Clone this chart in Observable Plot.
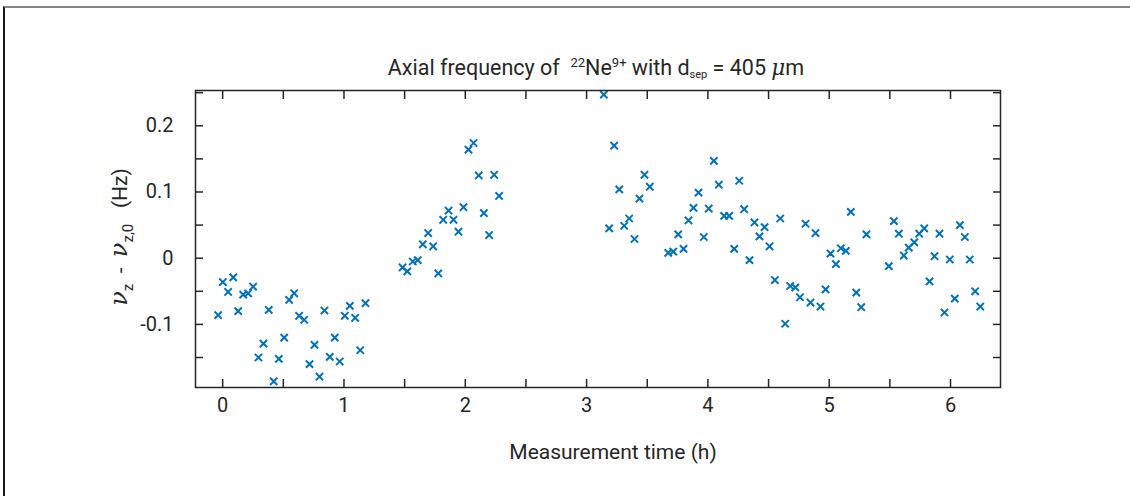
<!DOCTYPE html>
<html><head><meta charset="utf-8">
<script src="https://cdn.jsdelivr.net/npm/d3@7"></script>
<script src="https://cdn.jsdelivr.net/npm/@observablehq/plot@0.6"></script>
<style>
body{margin:0;background:#fff;}
#wrap{position:relative;width:1130px;height:496px;overflow:hidden;font-family:Roboto,"Noto Sans",sans-serif;color:#262626;}
#border{position:absolute;left:3px;top:6px;right:-10px;bottom:-10px;border-top:2px solid #858585;border-left:2px solid #1a1a1a;}
#title{position:absolute;left:596px;top:67px;transform:translate(-50%,-50%);white-space:nowrap;font-size:21.5px;}
#title sup{font-size:13px;vertical-align:8px;line-height:0;}
#title sub{font-size:11px;vertical-align:-3px;line-height:0;}
#ylab{position:absolute;left:119px;top:237px;transform:translate(-50%,-50%) rotate(-90deg);white-space:nowrap;font-size:21px;}
#ylab .nu{font-family:"DejaVu Serif","Liberation Serif",serif;font-style:italic;font-size:24px;}
#ylab sub{font-size:15px;vertical-align:-6px;line-height:0;}
#chart{position:absolute;left:0;top:0;}
</style></head>
<body><div id="wrap">
<div id="border"></div>
<div id="chart"></div>
<div id="title">Axial frequency of&nbsp;&nbsp;<sup>22</sup>Ne<sup>9+</sup>&nbsp;with d<sub>sep</sub> = 405 <span style="font-family:'DejaVu Serif',serif;font-style:italic">μ</span>m</div>
<div id="ylab"><span class="nu">ν</span><sub>z</sub>&nbsp;&nbsp;-&nbsp;&nbsp;<span class="nu">ν</span><sub>z,0</sub>&nbsp;&nbsp;&nbsp;(Hz)</div>
</div>
<script>
const time = [
 -0.037,0.001,0.045,0.087,0.128,0.169,0.210,0.251,0.295,0.336,0.380,0.421,0.463,0.507,0.548,0.589,0.630,0.672,0.716,0.757,0.798,0.839,0.883,0.924,0.965,1.007,1.048,1.092,1.134,1.177,
 1.483,1.522,1.567,1.608,1.650,1.694,1.735,1.777,1.818,1.862,1.903,1.944,1.985,2.026,2.068,2.111,2.153,2.197,2.238,2.279,
 3.142,3.186,3.227,3.269,3.310,3.351,3.395,3.436,3.477,3.521,
 3.673,3.714,3.755,3.799,3.840,3.881,3.923,3.966,4.007,4.049,4.090,4.134,4.175,4.217,4.258,4.299,4.343,4.384,4.425,4.467,4.508,4.552,4.596,4.637,4.678,4.720,4.759,4.805,4.846,4.887,4.928,4.970,5.011,5.055,5.096,5.137,5.178,5.223,5.264,5.307,
 5.491,5.533,5.574,5.615,5.656,5.701,5.742,5.783,5.827,5.868,5.909,5.950,5.994,6.035,6.077,6.118,6.159,6.203,6.245
];
const freqShift = [
 -0.086,-0.036,-0.051,-0.029,-0.080,-0.055,-0.053,-0.043,-0.150,-0.129,-0.078,-0.186,-0.152,-0.120,-0.063,-0.053,-0.087,-0.093,-0.160,-0.131,-0.179,-0.079,-0.149,-0.120,-0.156,-0.087,-0.072,-0.090,-0.139,-0.068,
 -0.014,-0.020,-0.005,-0.003,0.021,0.038,0.018,-0.023,0.058,0.072,0.058,0.040,0.077,0.164,0.174,0.125,0.068,0.035,0.126,0.094,
 0.247,0.045,0.170,0.104,0.049,0.060,0.029,0.090,0.126,0.108,
 0.008,0.010,0.036,0.014,0.057,0.076,0.099,0.032,0.075,0.147,0.111,0.064,0.064,0.014,0.117,0.074,-0.003,0.054,0.033,0.047,0.018,-0.033,0.060,-0.099,-0.042,-0.044,-0.059,0.052,-0.067,0.038,-0.073,-0.047,0.007,-0.009,0.015,0.011,0.070,-0.052,-0.074,0.036,
 -0.012,0.056,0.037,0.004,0.016,0.024,0.037,0.045,-0.035,0.003,0.037,-0.082,-0.002,-0.061,0.050,0.032,-0.002,-0.050,-0.073
];
const xTickLabels = [0,1,2,3,4,5,6];
const xMinorTicks = [0,0.5,1,1.5,2,2.5,3,3.5,4,4.5,5,5.5,6];
const yTickLabels = [-0.1,0,0.1,0.2];
const yMinorTicks = [-0.15,-0.1,-0.05,0,0.05,0.1,0.15,0.2,0.25];
const xLabel = "Measurement time (h)";

const data = time.map((t,i)=>({t, v: freqShift[i]}));
const ink = "#262626";
const fmt = d => String(d);

const chart = Plot.plot({
  width: 1130, height: 496,
  marginTop: 90, marginBottom: 109, marginLeft: 195, marginRight: 130,
  style: {fontFamily: "Roboto, 'Noto Sans', sans-serif", color: ink, background: "transparent"},
  x: {domain: [-0.224, 6.412], label: null, axis: null},
  y: {domain: [-0.1953, 0.2533], label: null, axis: null},
  marks: [
    Plot.dot(data, {x: "t", y: "v", symbol: "times", r: 3.4, stroke: "#0072BD", strokeWidth: 2}),
    Plot.frame({stroke: ink, strokeWidth: 1.5}),
    Plot.axisX(xMinorTicks, {anchor: "bottom", tickSize: -8, tickFormat: () => "", strokeWidth: 1.5, stroke: ink}),
    Plot.axisX(xMinorTicks, {anchor: "top", tickSize: -8, tickFormat: () => "", strokeWidth: 1.5, stroke: ink}),
    Plot.axisY(yMinorTicks, {anchor: "left", tickSize: -8, tickFormat: () => "", strokeWidth: 1.5, stroke: ink}),
    Plot.axisY(yMinorTicks, {anchor: "right", tickSize: -8, tickFormat: () => "", strokeWidth: 1.5, stroke: ink}),
    Plot.text(xTickLabels, {x: d => d, text: fmt, frameAnchor: "bottom", dy: 24, fontSize: 20, fill: ink}),
    Plot.text(yTickLabels, {y: d => d, text: fmt, frameAnchor: "left", textAnchor: "end", dx: -22, fontSize: 20, fill: ink}),
    Plot.text([xLabel], {text: d => d, frameAnchor: "bottom", dx: 15, dy: 71, fontSize: 21, fill: ink})
  ]
});
document.getElementById("chart").appendChild(chart);
</script>
</body></html>
